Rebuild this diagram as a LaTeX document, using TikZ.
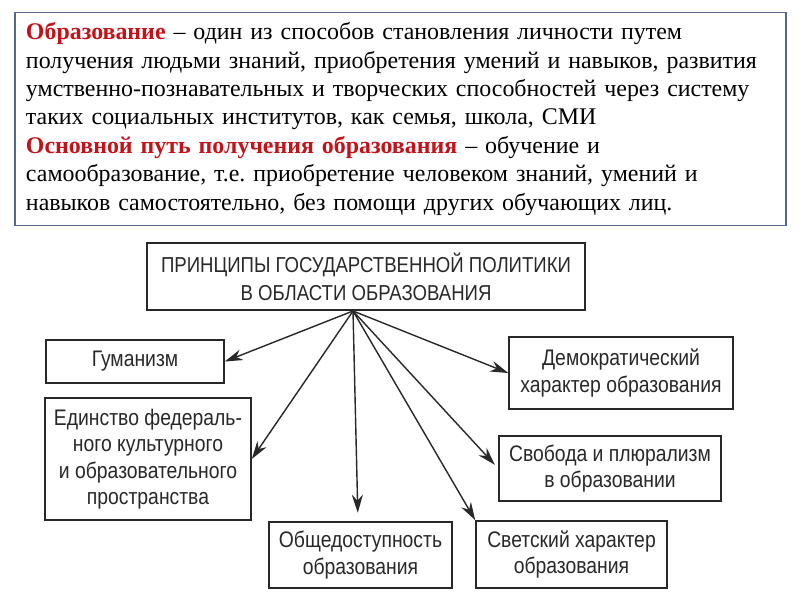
\documentclass[tikz,border=0pt]{standalone}
\usepackage{fontspec}
\setmainfont{Liberation Serif}
\newfontfamily\diagfont[FakeStretch=0.86]{Liberation Sans}
\usetikzlibrary{arrows.meta}
\definecolor{termred}{RGB}{196,18,24}
\definecolor{frameblue}{RGB}{84,104,140}
\definecolor{inkgray}{RGB}{40,40,40}

\begin{document}
\begin{tikzpicture}[every node/.style={font=\diagfont\fontsize{12.8}{15}\selectfont, text=inkgray},
  defbox/.style={draw=frameblue, line width=1.1pt, align=left, text width=14.98cm, inner xsep=0.22cm, minimum height=4.26cm,
    font=\fontsize{13.6}{16.2}\selectfont, text=black},
  pbox/.style={draw=inkgray, line width=0.9pt, align=center, inner sep=0pt},
  edge/.style={-{Stealth[length=3.6mm, width=2.2mm]}, line width=0.8pt, inkgray}]
  \useasboundingbox (0,0) rectangle (16,12);
  \node[defbox] (def) at (8.01,9.62) {{\bfseries\color{termred}Образование} -- один из способов становления личности путем\\
    получения людьми знаний, приобретения умений и навыков, развития\\
    умственно-познавательных и творческих способностей через систему\\
    таких социальных институтов, как семья, школа, СМИ\\
    {\bfseries\color{termred}Основной путь получения образования} -- обучение и\\
    самообразование, т.е.\ приобретение человеком знаний, умений и\\
    навыков самостоятельно, без помощи других обучающих лиц.};
  \node[pbox, minimum width=8.76cm, minimum height=1.34cm, font=\diagfont\fontsize{12.3}{16}\selectfont] (princ) at (7.32,6.47) {ПРИНЦИПЫ ГОСУДАРСТВЕННОЙ ПОЛИТИКИ\\В ОБЛАСТИ ОБРАЗОВАНИЯ};
  \node[pbox, minimum width=3.56cm, minimum height=0.86cm] (gum) at (2.70,4.77) {Гуманизм};
  \node[pbox, minimum width=4.12cm, minimum height=2.44cm] (edin) at (2.96,2.82) {Единство федераль-\\ного культурного\\и образовательного\\пространства};
  \node[pbox, minimum width=3.66cm, minimum height=1.32cm] (obsh) at (7.21,0.90) {Общедоступность\\образования};
  \node[pbox, minimum width=3.82cm, minimum height=1.34cm] (svet) at (11.43,0.91) {Светский характер\\образования};
  \node[pbox, minimum width=4.44cm, minimum height=1.30cm] (svob) at (12.20,2.63) {Свобода и плюрализм\\в образовании};
  \node[pbox, minimum width=4.48cm, minimum height=1.44cm] (demo) at (12.42,4.54) {Демократический\\характер образования};
  \coordinate (hub) at (7.06,5.78);
  \draw[edge] (hub) -- (gum.east);
  \draw[edge] (hub) -- (edin.east);
  \draw[edge, shorten >=0.17cm] (hub) -- ([xshift=-0.05cm]obsh.north);
  \draw[edge] (hub) -- (svet.north west);
  \draw[edge, shorten >=0.1cm] (hub) -- (svob.west);
  \draw[edge] (hub) -- (demo.west);
\end{tikzpicture}
\end{document}
